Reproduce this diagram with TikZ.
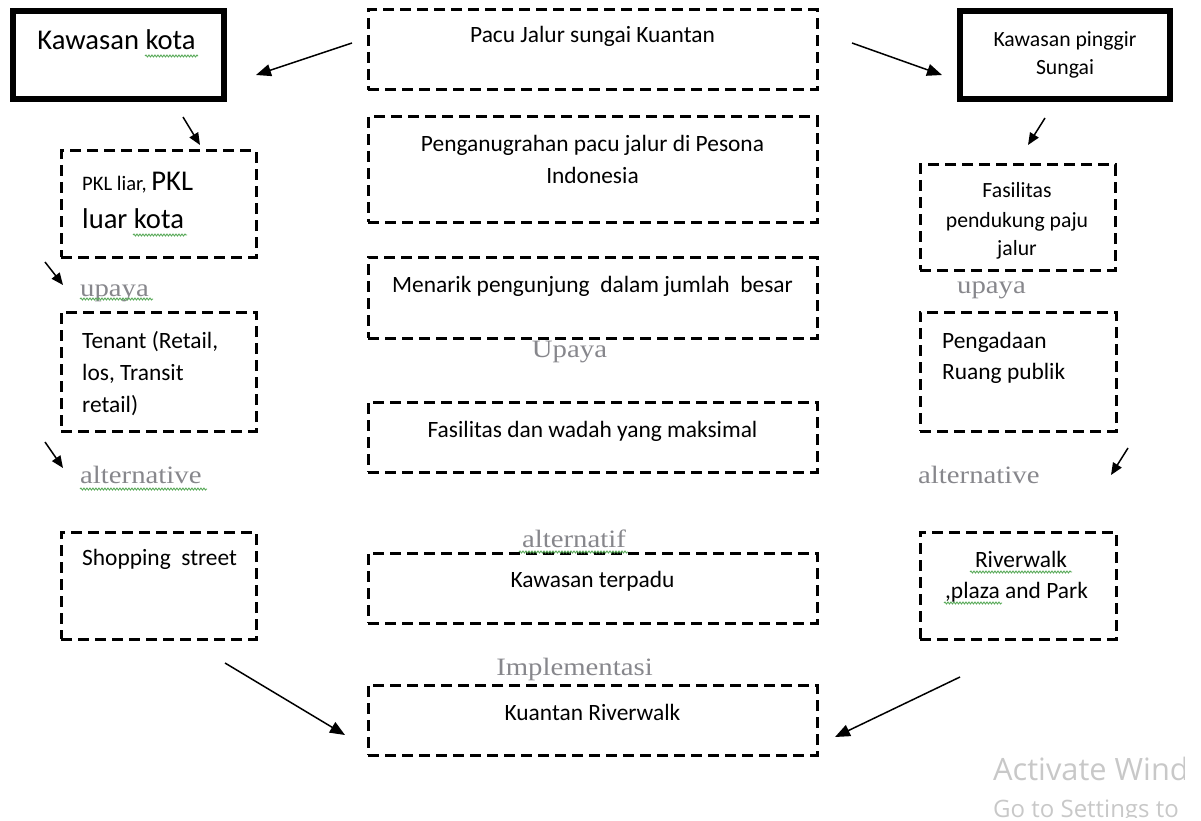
\documentclass[tikz,border=0pt]{standalone}
\usepackage{fontspec}
\setmainfont{Carlito}
\newfontfamily\grayserif[FakeStretch=1.15]{Liberation Serif}
\newfontfamily\wmfont{Open Sans}
\usetikzlibrary{arrows.meta,decorations.pathmorphing}
\definecolor{lblgray}{RGB}{135,135,140}
\definecolor{squig}{RGB}{90,170,90}
\definecolor{wmgray}{RGB}{200,200,200}
\tikzset{
 dbox/.style={draw, line width=3pt, dash pattern=on 11pt off 6pt, inner sep=0pt},
 tbox/.style={draw, line width=6pt, inner sep=0pt},
 txt/.style={inner sep=0pt, font=\fontsize{23.4}{28}\selectfont},
 smalltxt/.style={inner sep=0pt, font=\fontsize{21.7}{26}\selectfont},
 bigtxt/.style={inner sep=0pt, font=\fontsize{28.6}{34}\selectfont},
 lbl/.style={inner sep=0pt, text=lblgray, font=\grayserif\fontsize{25}{30}\selectfont},
 arr/.style={line width=1.5pt, -{Triangle[length=15pt,width=12pt]}},
 sarr/.style={line width=1.5pt, -{Triangle[length=12pt,width=10pt]}},
 wavy/.style={draw=squig, line width=0.9pt, decorate, decoration={snake, amplitude=1pt, segment length=3pt}},
 wm/.style={inner sep=0pt, text=wmgray, anchor=base west},
}
\begin{document}
\begin{tikzpicture}[x=1pt,y=-1pt]
\useasboundingbox (0,0) rectangle (1201,821);
\clip (0,0) rectangle (1201,821);

% thick boxes
\node[tbox, minimum width=211pt, minimum height=88pt] (TL) at (118.5,55) {};
\node[tbox, minimum width=210pt, minimum height=88pt] (TR) at (1065,55) {};

% left column
\node[dbox, minimum width=195pt, minimum height=106pt] (L1) at (158.5,204) {};
\node[dbox, minimum width=195pt, minimum height=119pt] (L2) at (158.5,371.5) {};
\node[dbox, minimum width=195pt, minimum height=107pt] (L3) at (158.5,585.5) {};

% centre column
\node[dbox, minimum width=449pt, minimum height=80pt] (C1) at (592.5,50) {};
\node[dbox, minimum width=449pt, minimum height=105pt] (C2) at (592.5,169.5) {};
\node[dbox, minimum width=449pt, minimum height=81pt] (C3) at (592.5,297.5) {};
\node[dbox, minimum width=449pt, minimum height=70pt] (C4) at (592.5,437) {};
\node[dbox, minimum width=449pt, minimum height=70pt] (C5) at (592.5,588) {};
\node[dbox, minimum width=449pt, minimum height=70pt] (C6) at (592.5,720) {};

% right column
\node[dbox, minimum width=195pt, minimum height=105pt] (R1) at (1017.5,217.5) {};
\node[dbox, minimum width=196pt, minimum height=119pt] (R2) at (1018,371.5) {};
\node[dbox, minimum width=196pt, minimum height=107pt] (R3) at (1018,585.5) {};

% texts in boxes
\node[bigtxt, anchor=base] (tTL) at (116.5,50) {Kawasan kota};
\node[smalltxt, anchor=base] (tTR1) at (1065,47) {Kawasan pinggir};
\node[smalltxt, anchor=base] (tTR2) at (1065,75) {Sungai};

\node[inner sep=0pt, anchor=base west] (tL1a) at (82,190) {\fontsize{20.6}{25}\selectfont PKL liar, \fontsize{28.6}{34}\selectfont PKL};
\node[bigtxt, anchor=base west] (tL1b) at (82,228) {luar kota};
\node[txt, anchor=base west] (tL2a) at (82,348) {Tenant (Retail,};
\node[txt, anchor=base west] (tL2b) at (82,380) {los, Transit};
\node[txt, anchor=base west] (tL2c) at (82,412) {retail)};
\node[txt, anchor=base west] (tL3) at (82,565) {Shopping\ \ street};

\node[txt, anchor=base] (tC1) at (592.5,43) {Pacu Jalur sungai Kuantan};
\node[txt, anchor=base] (tC2a) at (592.5,152) {Penganugrahan pacu jalur di Pesona};
\node[txt, anchor=base] (tC2b) at (592.5,183) {Indonesia};
\node[txt, anchor=base] (tC3) at (592.5,292) {Menarik pengunjung\ \ dalam jumlah\ \ besar};
\node[txt, anchor=base] (tC4) at (592.5,437) {Fasilitas dan wadah yang maksimal};
\node[txt, anchor=base] (tC5) at (592.5,587) {Kawasan terpadu};
\node[txt, anchor=base] (tC6) at (592.5,720) {Kuantan Riverwalk};

\node[smalltxt, anchor=base] (tR1a) at (1017,197) {Fasilitas};
\node[smalltxt, anchor=base] (tR1b) at (1017,227) {pendukung paju};
\node[smalltxt, anchor=base] (tR1c) at (1017,255) {jalur};
\node[txt, anchor=base west] (tR2a) at (942,348) {Pengadaan};
\node[txt, anchor=base west] (tR2b) at (942,379) {Ruang publik};
\node[txt, anchor=base] (tR3a) at (1021,567) {Riverwalk};
\node[txt, anchor=base] (tR3b) at (1016.5,598) {,plaza and Park};

% grey labels
\node[lbl, anchor=base west] (uL) at (80,296) {upaya};
\node[lbl, anchor=base west] (aL) at (80,483) {alternative};
\node[lbl, anchor=base] (uC) at (569.5,357) {Upaya};
\node[lbl, anchor=base west] (uR) at (957,293) {upaya};
\node[lbl, anchor=base west] (aR) at (918,483) {alternative};
\node[lbl, anchor=base] (aC) at (574,547) {alternatif};
\node[lbl, anchor=base] (iC) at (574.5,675) {Implementasi};

% spelling squiggles
\draw[wavy] (145,56) -- (198,56);
\draw[wavy] (133,235) -- (187,235);
\draw[wavy] (80,299) -- (153,299);
\draw[wavy] (80,489) -- (207,489);
\draw[wavy] (970,572) -- (1072,572);
\draw[wavy] (944,603) -- (1002,603);
\draw[wavy] (519,552) -- (628,552);

% arrow end points
\coordinate (a1s) at (352,43);   \coordinate (a1e) at (256,75);
\coordinate (a2s) at (852,43);   \coordinate (a2e) at (942,75);
\coordinate (a3s) at (183,117);  \coordinate (a3e) at (200,145);
\coordinate (a4s) at (1045,118); \coordinate (a4e) at (1028,145);
\coordinate (a5s) at (45,262);   \coordinate (a5e) at (63,285);
\coordinate (a6s) at (45,442);   \coordinate (a6e) at (63,468);
\coordinate (a7s) at (1128,448); \coordinate (a7e) at (1111,475);
\coordinate (a8s) at (225,663);  \coordinate (a8e) at (345,735);
\coordinate (a9s) at (960,677);  \coordinate (a9e) at (835,737);

\draw[arr] (a1s) -- (a1e);
\draw[arr] (a2s) -- (a2e);
\draw[sarr] (a3s) -- (a3e);
\draw[sarr] (a4s) -- (a4e);
\draw[sarr] (a5s) -- (a5e);
\draw[sarr] (a6s) -- (a6e);
\draw[sarr] (a7s) -- (a7e);
\draw[arr] (a8s) -- (a8e);
\draw[arr] (a9s) -- (a9e);

% watermark (cut off at the right, as in the screenshot)
\begin{scope}
\clip (980,740) rectangle (1184,817);
\node[wm, font=\wmfont\fontsize{30.8}{34}\selectfont] (wm1) at (993,780) {Activate Windows};
\node[wm, font=\wmfont\fontsize{24}{28}\selectfont] (wm2) at (993,817) {Go to Settings to activate Windows.};
\end{scope}
\end{tikzpicture}
\end{document}
